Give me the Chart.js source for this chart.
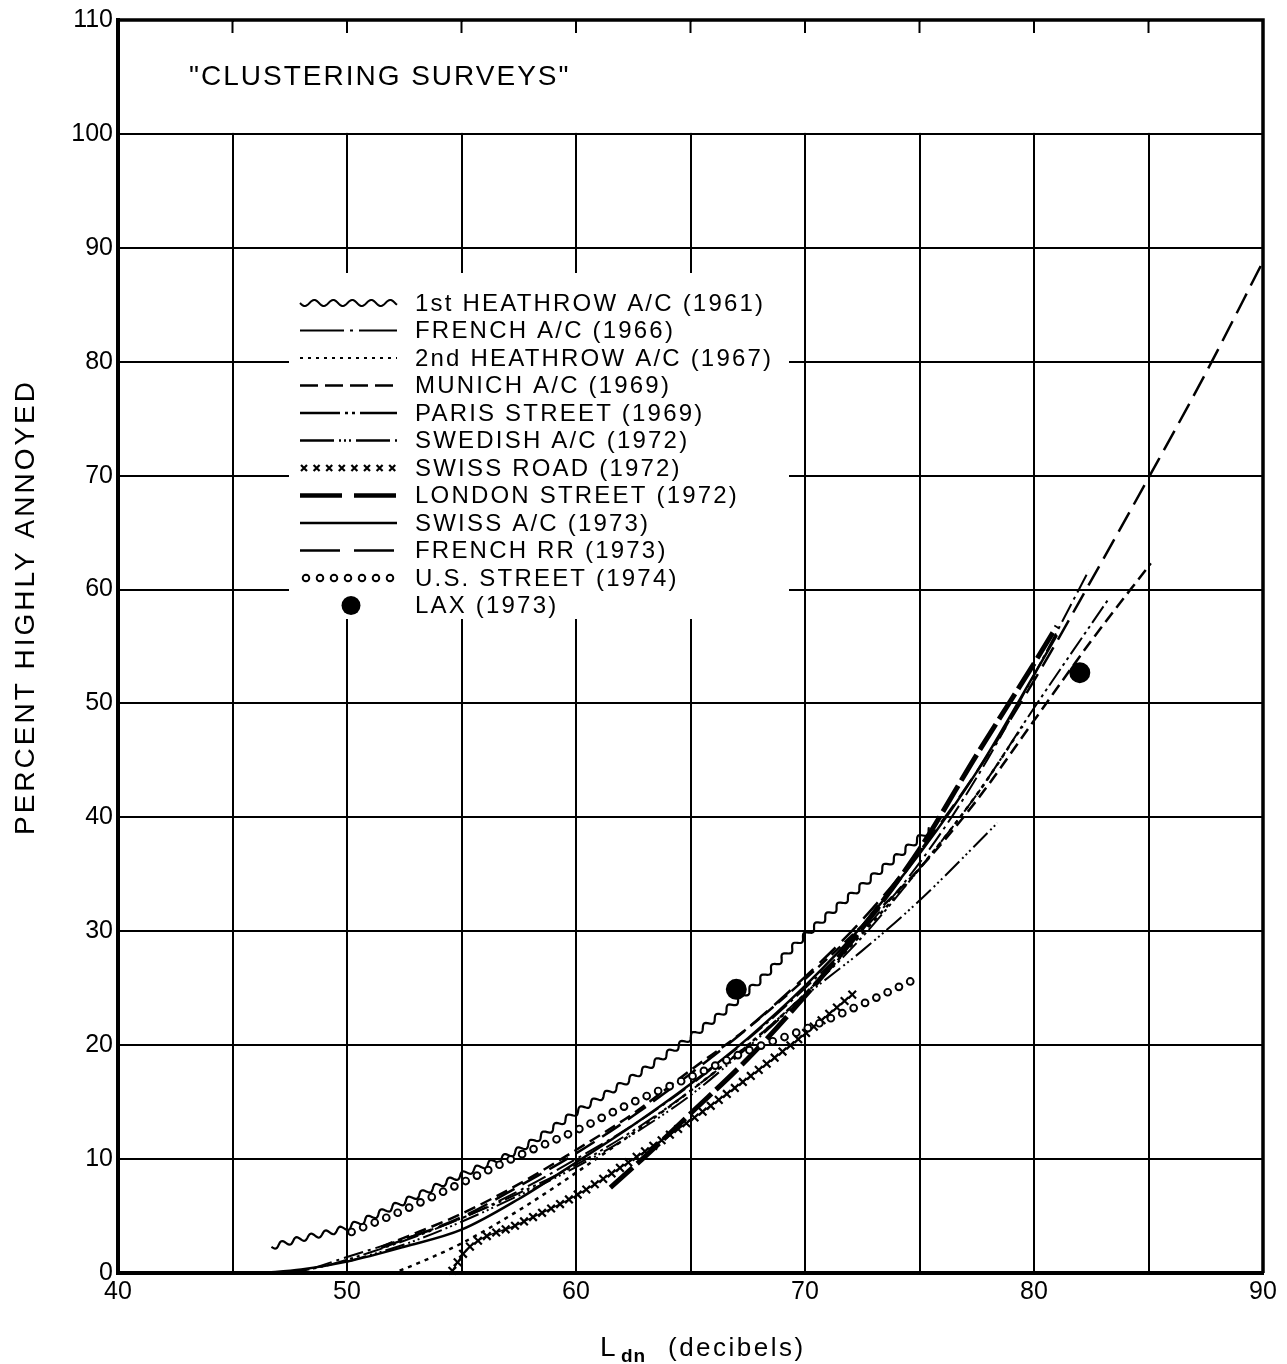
<!DOCTYPE html>
<html>
<head>
<meta charset="utf-8">
<script src="https://cdn.jsdelivr.net/npm/chart.js@4"></script>
<style>
  html, body { margin: 0; padding: 0; background: #fff; }
  canvas { display: block; }
</style>
</head>
<body>
<canvas id="chart" width="1287" height="1364"></canvas>
<script>
// axis tick labels
const xTickLabels = [40, 50, 60, 70, 80, 90];
const yTickLabels = [0, 10, 20, 30, 40, 50, 60, 70, 80, 90, 100, 110];

// curves: [Ldn, percent highly annoyed]
const heathrow1961 = [[46.7,2.3],[48,3.0],[50,4.0],[52,5.8],[55,8.6],[57.5,10.8],[60,14.1],[62.5,17.2],[65,20.7],[67.5,24.7],[70,29.6],[72.5,34.0],[75.5,39.0]];
const frenchAC1966 = [[48.5,0.4],[50,1.4],[52.5,3.0],[55,4.8],[57.5,7.2],[60,10.0],[62.5,13.0],[65,16.5],[67.5,20.5],[70,25.0],[72.5,30.0],[75,36.0],[77.5,43.5],[80,52.5],[82.4,61.7]];
const heathrow1967 = [[52.3,0.2],[53.5,1.2],[55,2.6],[57.5,5.5],[60,8.8],[62.5,12.3],[65,16.0],[67.5,20.0],[70,24.5],[72.5,29.8],[75,35.5],[77.5,42.0],[79.5,48.0]];
const munich1969 = [[51.5,2.3],[55,5.2],[57.5,7.8],[60,10.8],[62.5,14.0],[65,17.8],[67.5,21.5],[70,25.8],[72.5,30.5],[75,35.5],[77.5,41.5],[80,48.5],[82.5,55.5],[85.1,62.3]];
const parisStreet1969 = [[47.5,0],[49,0.6],[51,1.8],[53,3.2],[55,4.8],[57.5,7.0],[60,9.5],[62.5,12.5],[65,16.0],[67.5,20.0],[70,24.5],[72.5,29.5],[75,35.5],[77.5,42.0],[80,49.6],[83.3,59.3]];
const swedishAC1972 = [[50,1.0],[52.5,2.5],[55,4.5],[57.5,6.8],[60,9.3],[62.5,12.2],[65,15.6],[67.5,19.8],[70,24.3],[72.5,28.3],[75,32.7],[78.4,39.5]];
const swissRoad1972 = [[54.6,0.2],[55.2,2.0],[57.5,4.3],[60,6.8],[62.5,10.0],[65,13.4],[67.5,17.1],[70,21.0],[72.1,24.5]];
const londonStreet1972 = [[61.5,7.5],[63,10.2],[65,14.0],[67.5,18.8],[70,24.3],[72.5,30.3],[75,37.2],[77.5,45.5],[80,53.5],[81,56.8]];
const swissAC1973 = [[46.3,0],[48,0.3],[50,1.0],[52.5,2.3],[55,3.8],[57.5,6.5],[60,9.7],[62.5,13.0],[65,16.6],[67.5,20.6],[70,25.2],[72.5,30.5],[75,36.8],[77.5,44.0],[80,52.5],[81,56.0]];
const frenchRR1973 = [[51.5,2.2],[55,4.9],[57.5,7.6],[60,10.5],[62.5,13.8],[65,17.5],[67.5,21.5],[70,26.0],[72.5,31.0],[75,37.0],[77.5,44.0],[80,52.0],[82.5,60.8],[85,69.8],[87.5,79.0],[90,88.8]];
const usStreet1974 = [[50.2,3.6],[52,5.1],[55,7.9],[57.5,10.3],[60,12.5],[62.5,15.0],[65,17.2],[67.5,19.5],[70,21.4],[72.5,23.6],[74.6,25.6]];
const lax1973 = [[67.0,24.9],[82.0,52.7]];

const FONT = '"Liberation Sans", Arial, sans-serif';
const toXY = arr => arr.map(p => ({x: p[0], y: p[1]}));

function line(label, data, extra) {
  return Object.assign({
    label: label,
    data: toXY(data),
    borderColor: '#000',
    backgroundColor: '#000',
    borderWidth: 2,
    pointRadius: 0,
    fill: false,
    cubicInterpolationMode: 'monotone'
  }, extra);
}

const datasets = [
  line('1st HEATHROW A/C (1961)', heathrow1961, {borderWidth: 0, deco: 'wave', sample: {kind: 'wave'}}),
  line('FRENCH A/C (1966)', frenchAC1966, {borderDash: [20,5,3,5], sample: {kind: 'line', dash: [44,6,3,6], width: 2}}),
  line('2nd HEATHROW A/C (1967)', heathrow1967, {borderDash: [4,5], borderWidth: 2.5, sample: {kind: 'line', dash: [3,5], width: 2}}),
  line('MUNICH A/C (1969)', munich1969, {borderDash: [12,6], borderWidth: 2.5, sample: {kind: 'line', dash: [18,7], width: 2.5}}),
  line('PARIS STREET (1969)', parisStreet1969, {borderDash: [20,4,3,4,3,4], sample: {kind: 'line', dash: [40,5,3,4,3,5], width: 2.5}}),
  line('SWEDISH A/C (1972)', swedishAC1972, {borderDash: [20,4,2,3,2,3,2,4], sample: {kind: 'line', dash: [34,5,2,3,2,3,2,5], width: 2.5}}),
  line('SWISS ROAD (1972)', swissRoad1972, {borderWidth: 1.5, deco: 'cross', sample: {kind: 'cross'}}),
  line('LONDON STREET (1972)', londonStreet1972, {borderDash: [30,6], borderWidth: 5, sample: {kind: 'line', dash: [42,12], width: 4.5}}),
  line('SWISS A/C (1973)', swissAC1973, {borderWidth: 2.5, sample: {kind: 'line', dash: [], width: 2.5}}),
  line('FRENCH RR (1973)', frenchRR1973, {borderDash: [22,9], borderWidth: 2.5, sample: {kind: 'line', dash: [40,14], width: 2.5}}),
  line('U.S. STREET (1974)', usStreet1974, {borderWidth: 0, deco: 'circle', sample: {kind: 'circle'}}),
  line('LAX (1973)', lax1973, {showLine: false, pointRadius: 9.5, pointHoverRadius: 9.5, sample: {kind: 'dot'}})
];

// sample the drawn bezier path of a dataset in pixels
function pathOf(chart, i) {
  const meta = chart.getDatasetMeta(i);
  if (meta.dataset && meta.dataset.updateControlPoints) {
    meta.dataset.updateControlPoints(chart.chartArea, 'x');
  }
  const pts = meta.data, out = [];
  for (let k = 0; k < pts.length - 1; k++) {
    const a = pts[k], b = pts[k + 1];
    const c1x = a.cp2x ?? a.x, c1y = a.cp2y ?? a.y;
    const c2x = b.cp1x ?? b.x, c2y = b.cp1y ?? b.y;
    for (let s = 0; s < 24; s++) {
      const t = s / 24, u = 1 - t;
      out.push({
        x: u*u*u*a.x + 3*u*u*t*c1x + 3*u*t*t*c2x + t*t*t*b.x,
        y: u*u*u*a.y + 3*u*u*t*c1y + 3*u*t*t*c2y + t*t*t*b.y
      });
    }
  }
  const l = pts[pts.length - 1];
  out.push({x: l.x, y: l.y});
  return out;
}

function walk(path, step, fn) {
  let s = 0, next = 0;
  for (let k = 0; k < path.length - 1; k++) {
    const a = path[k], b = path[k + 1];
    const dx = b.x - a.x, dy = b.y - a.y, len = Math.hypot(dx, dy);
    if (!len) continue;
    while (next <= s + len) {
      const t = (next - s) / len;
      fn(a.x + dx * t, a.y + dy * t, dx / len, dy / len, next);
      next += step;
    }
    s += len;
  }
}

function drawWave(ctx, path, amp, wl, lw) {
  ctx.beginPath();
  let first = true;
  walk(path, 1, (x, y, tx, ty, s) => {
    const o = amp * Math.sin(2 * Math.PI * s / wl);
    const px = x - ty * o, py = y + tx * o;
    if (first) { ctx.moveTo(px, py); first = false; } else ctx.lineTo(px, py);
  });
  ctx.lineWidth = lw;
  ctx.strokeStyle = '#000';
  ctx.setLineDash([]);
  ctx.stroke();
}

function drawCross(ctx, x, y, r, lw) {
  ctx.beginPath();
  ctx.moveTo(x - r, y - r); ctx.lineTo(x + r, y + r);
  ctx.moveTo(x - r, y + r); ctx.lineTo(x + r, y - r);
  ctx.lineWidth = lw;
  ctx.setLineDash([]);
  ctx.stroke();
}

function drawRing(ctx, x, y, r, lw) {
  ctx.beginPath();
  ctx.arc(x, y, r, 0, Math.PI * 2);
  ctx.fillStyle = '#fff';
  ctx.fill();
  ctx.lineWidth = lw;
  ctx.setLineDash([]);
  ctx.stroke();
}

const decoPlugin = {
  id: 'deco',
  afterDatasetsDraw(chart) {
    const ctx = chart.ctx;
    ctx.save();
    ctx.strokeStyle = '#000';
    chart.data.datasets.forEach((ds, i) => {
      if (!ds.deco) return;
      const path = pathOf(chart, i);
      if (ds.deco === 'wave') drawWave(ctx, path, 2.8, 15, 2.2);
      if (ds.deco === 'cross') walk(path, 10, (x, y) => drawCross(ctx, x, y, 3.8, 2.2));
      if (ds.deco === 'circle') walk(path, 12.5, (x, y) => drawRing(ctx, x, y, 3.4, 1.9));
    });
    ctx.restore();
  }
};

const framePlugin = {
  id: 'frame',
  beforeDatasetsDraw(chart) {
    const {ctx, chartArea: a, scales} = chart;
    const xs = scales.x, ys = scales.y;
    ctx.save();
    // blank title band between 100 and 110
    const y100 = ys.getPixelForValue(100);
    ctx.fillStyle = '#fff';
    ctx.fillRect(a.left + 3, a.top + 2, a.right - a.left - 5, y100 - a.top - 3);
    // short ticks hanging from the top edge
    ctx.strokeStyle = '#000';
    ctx.lineWidth = 2;
    for (let v = 45; v < 90; v += 5) {
      const x = xs.getPixelForValue(v);
      ctx.beginPath(); ctx.moveTo(x, a.top); ctx.lineTo(x, a.top + 13); ctx.stroke();
    }
    // heavier top and right edges
    ctx.lineWidth = 3.5;
    ctx.beginPath();
    ctx.moveTo(a.left, a.top); ctx.lineTo(a.right, a.top); ctx.lineTo(a.right, a.bottom);
    ctx.stroke();

    // title
    ctx.fillStyle = '#000';
    ctx.font = '28px ' + FONT;
    ctx.letterSpacing = '2px';
    ctx.textBaseline = 'alphabetic';
    ctx.textAlign = 'left';
    ctx.fillText('"CLUSTERING SURVEYS"', 189, 85);

    // legend box
    const left = 289, top = 273;
    ctx.fillStyle = '#fff';
    ctx.fillRect(left, top, 500, 346);
    ctx.font = '24px ' + FONT;
    ctx.letterSpacing = '2.2px';
    ctx.textBaseline = 'middle';
    chart.data.datasets.forEach((ds, i) => {
      const cy = 303 + i * 27.5;
      const s = ds.sample;
      ctx.strokeStyle = '#000';
      ctx.fillStyle = '#000';
      if (s.kind === 'line') {
        ctx.beginPath(); ctx.moveTo(300, cy); ctx.lineTo(397, cy);
        ctx.setLineDash(s.dash); ctx.lineWidth = s.width; ctx.stroke();
        ctx.setLineDash([]);
      } else if (s.kind === 'wave') {
        ctx.beginPath();
        for (let x = 300; x <= 397; x++) {
          const y = cy + 3 * Math.sin(2 * Math.PI * (x - 300) / 19);
          if (x === 300) ctx.moveTo(x, y); else ctx.lineTo(x, y);
        }
        ctx.lineWidth = 2; ctx.stroke();
      } else if (s.kind === 'cross') {
        for (let k = 0; k < 8; k++) drawCross(ctx, 304 + k * 12.6, cy, 3, 2.2);
      } else if (s.kind === 'circle') {
        for (let k = 0; k < 7; k++) drawRing(ctx, 306 + k * 14, cy, 3.3, 1.9);
      } else if (s.kind === 'dot') {
        ctx.beginPath(); ctx.arc(351, cy, 9.5, 0, Math.PI * 2); ctx.fill();
      }
      ctx.fillStyle = '#000';
      ctx.fillText(ds.label, 415, cy + 1);
    });

    // axis titles
    ctx.font = '28px ' + FONT;
    ctx.letterSpacing = '3px';
    ctx.textAlign = 'center';
    ctx.textBaseline = 'middle';
    ctx.save();
    ctx.translate(26, 607);
    ctx.rotate(-Math.PI / 2);
    ctx.fillText('PERCENT HIGHLY ANNOYED', 0, 0);
    ctx.restore();

    ctx.textAlign = 'left';
    ctx.textBaseline = 'alphabetic';
    ctx.letterSpacing = '0px';
    ctx.font = '28px ' + FONT;
    ctx.fillText('L', 600, 1356);
    ctx.font = 'bold 19px ' + FONT;
    ctx.letterSpacing = '1px';
    ctx.fillText('dn', 621, 1362);
    ctx.font = '26px ' + FONT;
    ctx.letterSpacing = '2.5px';
    ctx.fillText('(decibels)', 668, 1356);
    ctx.restore();
  }
};

new Chart(document.getElementById('chart').getContext('2d'), {
  type: 'line',
  data: {datasets: datasets},
  options: {
    responsive: false,
    animation: false,
    devicePixelRatio: 1,
    layout: {padding: {left: 0, right: 24, top: 19, bottom: 0}},
    plugins: {legend: {display: false}, tooltip: {enabled: false}, title: {display: false}},
    scales: {
      x: {
        type: 'linear',
        min: 40, max: 90,
        afterFit: s => { s.height = 91; },
        grid: {color: '#000', lineWidth: 2, drawTicks: false},
        border: {color: '#000', width: 4},
        ticks: {
          stepSize: 5, autoSkip: false, maxRotation: 0, padding: 4,
          color: '#000', font: {family: FONT, size: 25},
          callback: v => xTickLabels.includes(v) ? String(v) : ''
        }
      },
      y: {
        type: 'linear',
        min: 0, max: 110,
        afterFit: s => { s.width = 118; },
        grid: {color: '#000', lineWidth: 2, drawTicks: false},
        border: {color: '#000', width: 4},
        ticks: {
          stepSize: 10, autoSkip: false, padding: 5,
          color: '#000', font: {family: FONT, size: 25},
          callback: v => yTickLabels.includes(v) ? String(v) : ''
        }
      }
    }
  },
  plugins: [framePlugin, decoPlugin]
});
</script>
</body>
</html>
